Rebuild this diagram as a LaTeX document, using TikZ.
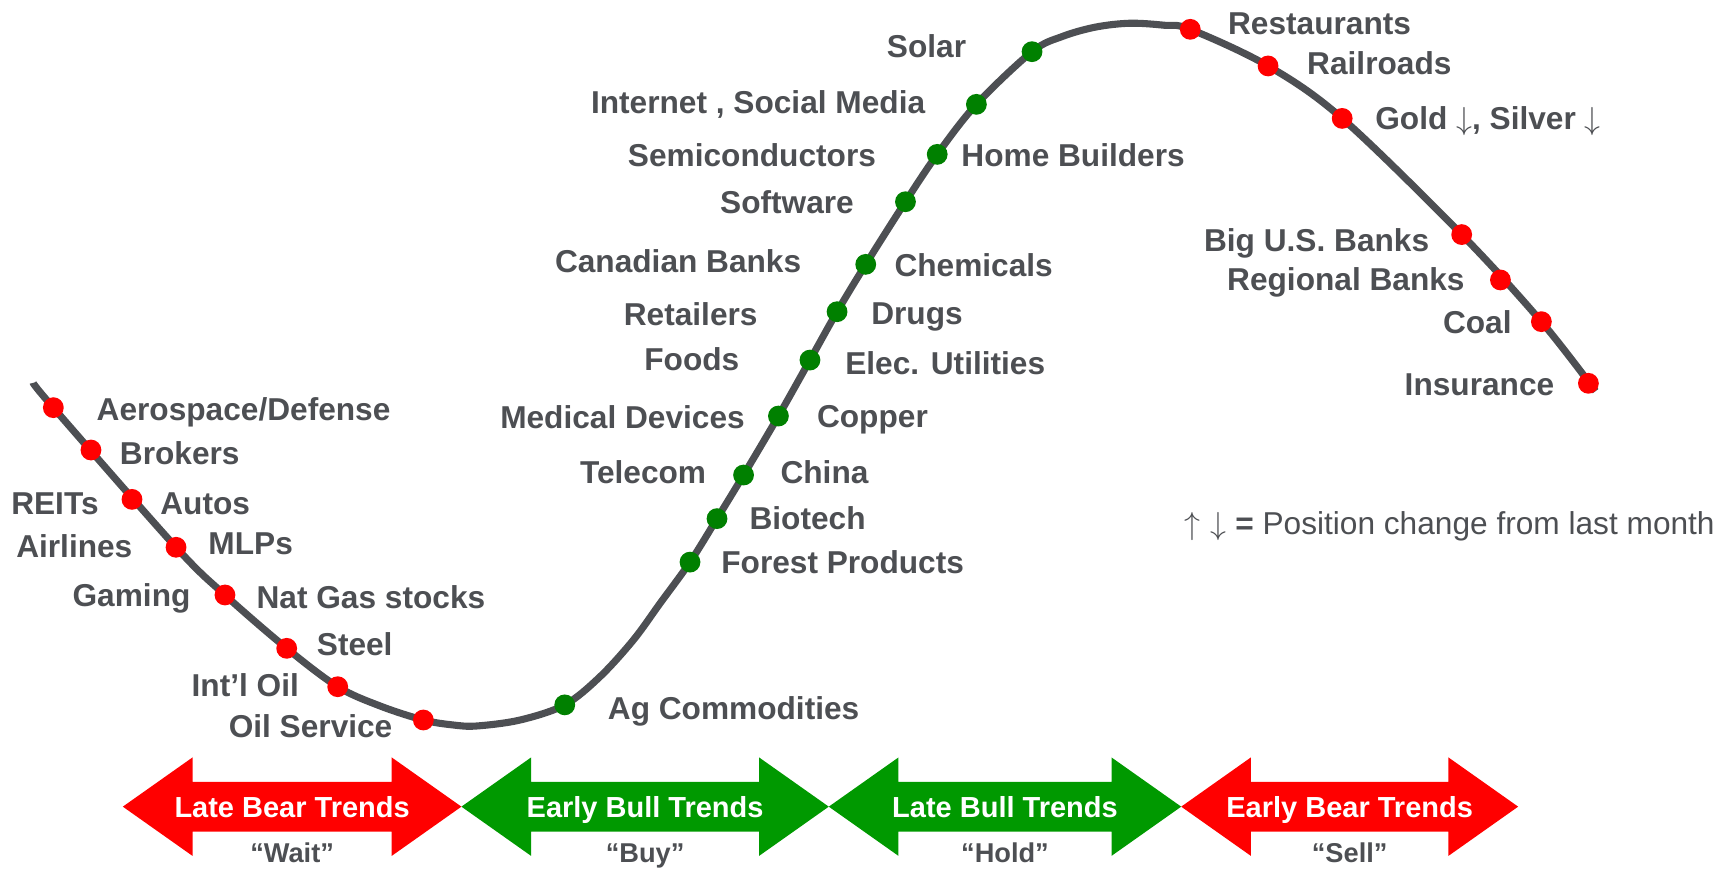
\documentclass[tikz,border=0pt]{standalone}
\usepackage{fontspec}
\setmainfont{Liberation Sans}
\usepackage{tikz}
\usetikzlibrary{positioning}
\definecolor{cycle-gray}{HTML}{4D4F53}
\definecolor{bull-green}{HTML}{009900}
\definecolor{dot-green}{HTML}{008000}
\definecolor{bear-red}{HTML}{FF0000}
\colorlet{sector}{cycle-gray}
\newcommand{\tikztrendarrow}[6][]{%
% arrow body
\fill[#1] (#2,729) -- (#2+63,684.5) -- (#2+63,706.5) -- (#3-63,706.5) -- (#3-63,684.5)
  -- (#3,729) -- (#3-63,773.5) -- (#3-63,751.5) -- (#2+63,751.5) -- (#2+63,773.5) -- cycle;
% trend name and advice
\node[trend] (#4) at ({(#2+#3)/2},729) {#5};
\node[advice] (#4-advice) at ({(#2+#3)/2},771) {#6};
}

\begin{document}
\begin{tikzpicture}[x=0.5pt, y=-0.5pt,
  sectorR/.style={font=\bfseries\fontsize{14.3}{17}\selectfont, text=sector, inner sep=0pt, text height=10.2pt, text depth=0pt, anchor=west},
  sectorL/.style={sectorR, anchor=east},
  legend/.style={font=\fontsize{14.3}{17}\selectfont, text=sector, inner sep=0pt, text height=10.2pt, text depth=0pt},
  trend/.style={font=\bfseries\fontsize{13.1}{16}\selectfont, text=white, inner sep=0pt, text height=9.4pt, text depth=0pt},
  advice/.style={font=\bfseries\fontsize{12.3}{15}\selectfont, text=sector, inner sep=0pt, text height=8.8pt, text depth=0pt},
  beardot/.style={circle, fill=bear-red, inner sep=0pt, minimum size=9.4pt},
  bulldot/.style={beardot, fill=dot-green},
  cycleline/.style={draw=cycle-gray, line width=3.2pt}]
\useasboundingbox (0,0) rectangle (1568,788);
% points on the cycle
\foreach \px/\py [count=\i] in {48.2/368.4, 82.2/406.7, 119.3/451.3, 159.1/494.6,
  203.3/537.7, 259.1/585.9, 305.2/620.6, 382.6/650.7,
  510.4/637, 623.6/508, 648/468.7, 672/429.3, 703.5/376, 732/325.4,
  756.5/281.7, 782.4/238.9, 818.3/182.3, 847/139.5, 882.4/94.3, 932.7/46.7,
  1075.7/26.5, 1146/59.6, 1213/107, 1321/212, 1356/253, 1393/290.7, 1435.5/346.4}
  \coordinate (p\i) at (\px,\py);
% in-between points
\coordinate (start) at (30,346);
\coordinate (end) at (1442,353.5);
\foreach \px/\py [count=\i] in {343.5/638, 409.7/655.2, 430.8/656.1, 470/650.7,
  542.2/611.6, 572.4/578.4, 596.5/545.3, 960/33, 990/24.5, 1021/21, 1052/22.8}
  \coordinate (q\i) at (\px,\py);
% cycle curve
\draw[cycleline] plot[smooth, tension=0.55] coordinates {(start) (p1) (p4) (p5) (p6)
  (p7) (q1) (p8) (q2) (q3) (q4) (p9) (q5) (q6) (q7) (p10) (p11) (p12) (p13) (p14) (p15) (p16)
  (p17) (p18) (p19) (p20) (q8) (q9) (q10) (q11) (p21) (p22) (p23) (p24) (p26) (end)};
% dots
\foreach \i in {1,...,8} \node[beardot] (d\i) at (p\i) {};
\foreach \i in {9,...,20} \node[bulldot] (d\i) at (p\i) {};
\foreach \i in {21,...,27} \node[beardot] (d\i) at (p\i) {};
% late bear sectors
\node[sectorR] (aero) at (87,370) {Aerospace/Defense};
\node[sectorR] (brokers) at (108,409.5) {Brokers};
\node[sectorL] (reits) at (89.5,454.5) {REITs};
\node[sectorR] (autos) at (144.5,455) {Autos};
\node[sectorL] (airlines) at (120,494) {Airlines};
\node[sectorR] (mlps) at (188,491) {MLPs};
\node[sectorL] (gaming) at (172.5,537.5) {Gaming};
\node[sectorR] (natgas) at (231.5,540) {Nat Gas stocks};
\node[sectorR] (steel) at (286,582) {Steel};
\node[sectorL] (intloil) at (270.5,619) {Int’l Oil};
\node[sectorL] (oilsvc) at (355,656.5) {Oil Service};
% bull sectors
\node[sectorR] (agcomm) at (549,640) {Ag Commodities};
\node[sectorR] (forest) at (651.5,508.5) {Forest Products};
\node[sectorR] (biotech) at (677,468.5) {Biotech};
\node[sectorR] (china) at (705,427) {China};
\node[sectorL] (telecom) at (638.5,427) {Telecom};
\node[sectorR] (copper) at (738,376.5) {Copper};
\node[sectorL] (meddev) at (673.5,377) {Medical Devices};
\node[sectorR] (elec) at (763.5,328) {Elec. Utilities};
\node[sectorL] (foods) at (668.5,325) {Foods};
\node[sectorR] (drugs) at (787,283) {Drugs};
\node[sectorL] (retail) at (685,284) {Retailers};
\node[sectorR] (chem) at (808,240) {Chemicals};
\node[sectorL] (canbanks) at (724.5,236) {Canadian Banks};
\node[sectorL] (software) at (772,182.5) {Software};
\node[sectorL] (semis) at (792,140) {Semiconductors};
\node[sectorR] (homeb) at (868.5,140.5) {Home Builders};
\node[sectorL] (internet) at (836.5,92) {Internet , Social Media};
\node[sectorL] (solar) at (873.5,41.5) {Solar};
% early bear sectors
\node[sectorR] (restaurants) at (1109.5,21) {Restaurants};
\node[sectorR] (railroads) at (1181,57) {Railroads};
\node[sectorR] (gold) at (1242.5,107) {Gold $\downarrow$, Silver $\downarrow$};
\node[sectorL] (bigbanks) at (1292,217) {Big U.S. Banks};
\node[sectorL] (regbanks) at (1324,252.5) {Regional Banks};
\node[sectorL] (coal) at (1366.5,291.5) {Coal};
\node[sectorL] (insurance) at (1405,347) {Insurance};
\node[legend, anchor=east] (legend) at (1550,473) {$\uparrow$\,\,$\downarrow$ \textbf{=} Position change from last month};
% trend arrows
\tikztrendarrow[bear-red]{111}{417}{latebear}{Late Bear Trends}{“Wait”}
\tikztrendarrow[bull-green]{417}{749}{earlybull}{Early Bull Trends}{“Buy”}
\tikztrendarrow[bull-green]{749}{1067.5}{latebull}{Late Bull Trends}{“Hold”}
\tikztrendarrow[bear-red]{1067.5}{1372}{earlybear}{Early Bear Trends}{“Sell”}
\end{tikzpicture}
\end{document}
